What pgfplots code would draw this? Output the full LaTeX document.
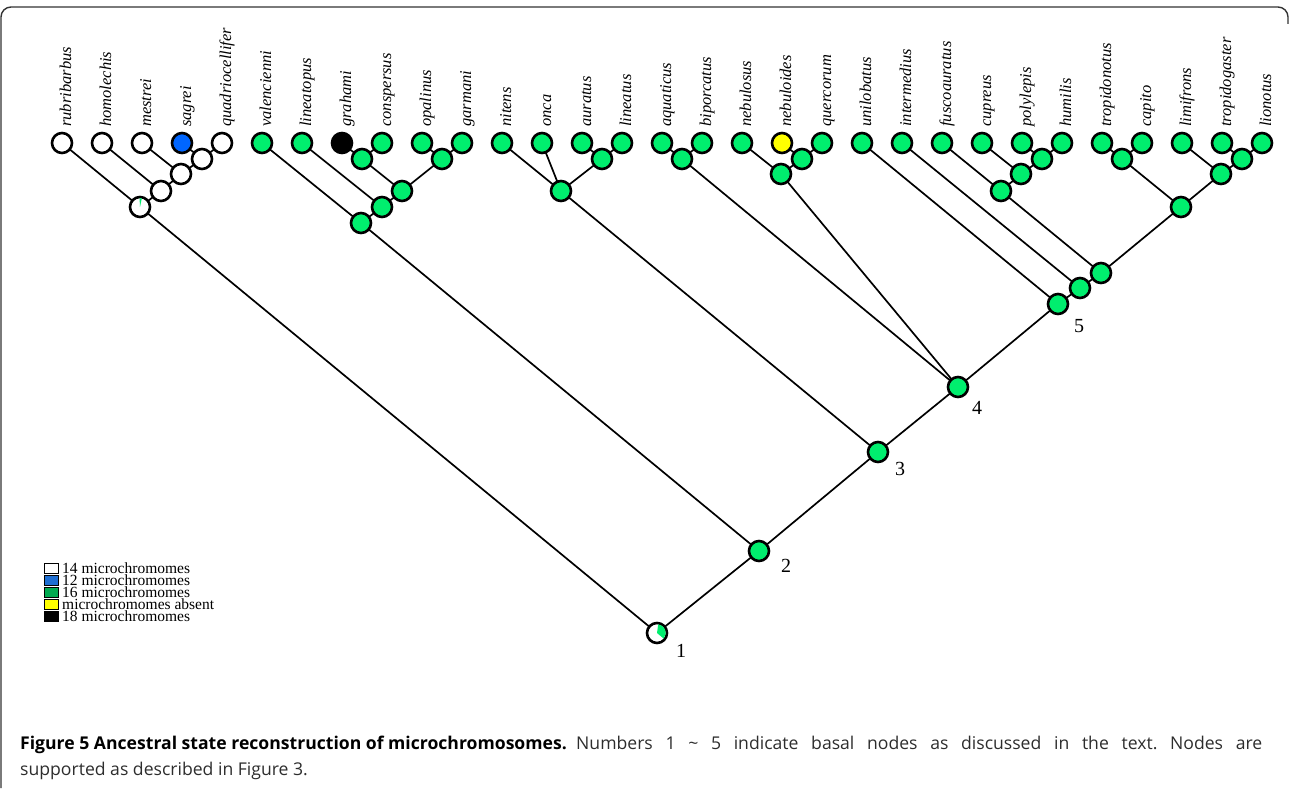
\documentclass[border=0pt]{standalone}
\usepackage{pgfplots}
\pgfplotsset{compat=1.18}
\usepackage{fontspec}
\setmainfont{Liberation Serif}
\newfontfamily\capfont{Open Sans}

\definecolor{nodegreen}{RGB}{0,238,110}
\definecolor{nodeblue}{RGB}{0,102,255}
\definecolor{nodeyellow}{RGB}{255,255,0}
\definecolor{leggreen}{RGB}{0,170,80}
\definecolor{legblue}{RGB}{30,110,210}
\definecolor{captext}{RGB}{45,45,45}

% green share of the root node and of the node below rubribarbus
\pgfdeclareplotmark{wedgeroot}{%
  \pgfpathmoveto{\pgfpointorigin}%
  \pgfpathlineto{\pgfpointpolar{82}{\pgfplotmarksize}}%
  \pgfpatharc{82}{-40}{\pgfplotmarksize}%
  \pgfpathclose
  \pgfusepathqfill}
\pgfdeclareplotmark{wedgesmall}{%
  \pgfpathmoveto{\pgfpointorigin}%
  \pgfpathlineto{\pgfpointpolar{93}{\pgfplotmarksize}}%
  \pgfpatharc{93}{78}{\pgfplotmarksize}%
  \pgfpathclose
  \pgfusepathqfill}

\tikzset{sp/.style={rotate=90, anchor=base west, inner sep=0pt,
    font=\fontsize{16.5}{18}\selectfont\itshape},
  nd/.style={only marks, mark=*, mark size=10pt,
    mark options={fill=#1, draw=black, line width=2.6pt}}}

\begin{document}
\frenchspacing
\begin{tikzpicture}
\begin{axis}[
    width=1290pt, height=788pt, scale only axis,
    xmin=0, xmax=1290, ymin=0, ymax=788,
    y dir=reverse,
    hide axis, clip=false,
    unbounded coords=jump,
]
\path (axis cs:0,0) rectangle (axis cs:1290,788);

% frame
\draw[line width=1.4pt, black!80, rounded corners=10pt]
  (axis cs:1,788) -- (axis cs:1,7) -- (axis cs:1288,7) -- (axis cs:1288,24);

% branches (child - parent - child), nan breaks the line
\addplot[black, line width=1.7pt, no markers] coordinates {
  (62,143) (140,207) (161,191) (nan,nan)
  (102,143) (161,191) (181,174) (nan,nan)
  (142,143) (181,174) (202,159) (nan,nan)
  (182,143) (202,159) (222,143) (nan,nan)
  (262,143) (361,223) (382,207) (nan,nan)
  (302,143) (382,207) (402,191) (nan,nan)
  (362,159) (402,191) (442,159) (nan,nan)
  (342,143) (362,159) (382,143) (nan,nan)
  (422,143) (442,159) (462,143) (nan,nan)
  (502,143) (561,191) (542,143) (nan,nan)
  (561,191) (602,159) (nan,nan)
  (582,143) (602,159) (622,143) (nan,nan)
  (662,143) (682,159) (702,143) (nan,nan)
  (742,143) (781,174) (802,159) (nan,nan)
  (782,143) (802,159) (822,143) (nan,nan)
  (1022,143) (1042,159) (1062,143) (nan,nan)
  (982,143) (1021,174) (1042,159) (nan,nan)
  (942,143) (1001,191) (1021,174) (nan,nan)
  (1102,143) (1122,159) (1142,143) (nan,nan)
  (1222,143) (1242,159) (1262,143) (nan,nan)
  (1182,143) (1221,174) (1242,159) (nan,nan)
  (1122,159) (1181,207) (1221,174) (nan,nan)
  (1001,191) (1101,273) (1181,207) (nan,nan)
  (902,143) (1080,288) (1101,273) (nan,nan)
  (862,143) (1058,304) (1080,288) (nan,nan)
  (682,159) (958,387) (781,174) (nan,nan)
  (958,387) (1058,304) (nan,nan)
  (561,191) (878,452) (958,387) (nan,nan)
  (361,223) (759,551) (878,452) (nan,nan)
  (140,207) (657,633) (759,551)
};

% nodes: 14 microchromomes
\addplot[nd=white] coordinates {
  (62,143) (102,143) (142,143) (222,143)
  (202,159) (181,174) (161,191) (140,207) (657,633)
};
% 12 microchromomes
\addplot[nd=nodeblue] coordinates {(182,143)};
% 18 microchromomes
\addplot[nd=black] coordinates {(342,143)};
% microchromomes absent
\addplot[nd=nodeyellow] coordinates {(782,143)};
% 16 microchromomes
\addplot[nd=nodegreen] coordinates {
  (262,143) (302,143) (382,143) (422,143) (462,143) (502,143) (542,143)
  (582,143) (622,143) (662,143) (702,143) (742,143) (822,143) (862,143)
  (902,143) (942,143) (982,143) (1022,143) (1062,143) (1102,143)
  (1142,143) (1182,143) (1222,143) (1262,143)
  (362,159) (442,159) (402,191) (382,207) (361,223)
  (602,159) (561,191) (682,159) (802,159) (781,174)
  (1042,159) (1021,174) (1001,191) (1122,159) (1242,159) (1221,174)
  (1181,207) (1101,273) (1080,288) (1058,304)
  (958,387) (878,452) (759,551)
};
% mixed nodes
\addplot[only marks, mark=wedgeroot, mark size=8.7pt,
  mark options={fill=nodegreen}] coordinates {(657,633)};
\addplot[only marks, mark=wedgesmall, mark size=8.7pt,
  mark options={fill=nodegreen}] coordinates {(140,207)};

% species names
\node[sp] at (axis cs:71,127) {rubribarbus};
\node[sp] at (axis cs:111,127) {homolechis};
\node[sp] at (axis cs:151,127) {mestrei};
\node[sp] at (axis cs:191,127) {sagrei};
\node[sp] at (axis cs:231,127) {quadriocellifer};
\node[sp] at (axis cs:271,127) {valencienni};
\node[sp] at (axis cs:311,127) {lineatopus};
\node[sp] at (axis cs:351,127) {grahami};
\node[sp] at (axis cs:391,127) {conspersus};
\node[sp] at (axis cs:431,127) {opalinus};
\node[sp] at (axis cs:471,127) {garmani};
\node[sp] at (axis cs:511,127) {nitens};
\node[sp] at (axis cs:551,127) {onca};
\node[sp] at (axis cs:591,127) {auratus};
\node[sp] at (axis cs:631,127) {lineatus};
\node[sp] at (axis cs:671,127) {aquaticus};
\node[sp] at (axis cs:711,127) {biporcatus};
\node[sp] at (axis cs:751,127) {nebulosus};
\node[sp] at (axis cs:791,127) {nebuloides};
\node[sp] at (axis cs:831,127) {quercorum};
\node[sp] at (axis cs:871,127) {unilobatus};
\node[sp] at (axis cs:911,127) {intermedius};
\node[sp] at (axis cs:951,127) {fuscoauratus};
\node[sp] at (axis cs:991,127) {cupreus};
\node[sp] at (axis cs:1031,127) {polylepis};
\node[sp] at (axis cs:1071,127) {humilis};
\node[sp] at (axis cs:1111,127) {tropidonotus};
\node[sp] at (axis cs:1151,127) {capito};
\node[sp] at (axis cs:1191,127) {limifrons};
\node[sp] at (axis cs:1231,127) {tropidogaster};
\node[sp] at (axis cs:1271,127) {lionotus};

% basal node numbers
\node[font=\fontsize{20}{22}\selectfont] at (axis cs:681,651) {1};
\node[font=\fontsize{20}{22}\selectfont] at (axis cs:786,566) {2};
\node[font=\fontsize{20}{22}\selectfont] at (axis cs:900,469) {3};
\node[font=\fontsize{20}{22}\selectfont] at (axis cs:977,408) {4};
\node[font=\fontsize{20}{22}\selectfont] at (axis cs:1079,326) {5};

% legend
\draw[line width=0.8pt, fill=white] (axis cs:44,563) rectangle (axis cs:58,573);
\draw[line width=0.8pt, fill=legblue] (axis cs:44,575) rectangle (axis cs:58,585);
\draw[line width=0.8pt, fill=leggreen] (axis cs:44,587) rectangle (axis cs:58,597);
\draw[line width=0.8pt, fill=nodeyellow] (axis cs:44,599) rectangle (axis cs:58,609);
\draw[line width=0.8pt, fill=black] (axis cs:44,611) rectangle (axis cs:58,621);
\begin{scope}[every node/.style={anchor=base west, inner sep=0pt,
    font=\fontsize{15.5}{15}\selectfont}]
\node at (axis cs:62,573) {14 microchromomes};
\node at (axis cs:62,585) {12 microchromomes};
\node at (axis cs:62,597) {16 microchromomes};
\node at (axis cs:62,609) {microchromomes absent};
\node at (axis cs:62,621) {18 microchromomes};
\end{scope}

% caption
\node[anchor=base west, inner sep=0pt,
  font=\capfont\bfseries\fontsize{17.6}{20}\selectfont] at (axis cs:20,749)
  {Figure 5 Ancestral state reconstruction of microchromosomes.};
\node[anchor=base west, inner sep=0pt, text=captext,
  font=\capfont\fontsize{17.6}{20}\selectfont] at (axis cs:576,749)
  {\makebox[686pt][s]{Numbers 1 \textasciitilde{} 5 indicate basal nodes as discussed in the text. Nodes are}};
\node[anchor=base west, inner sep=0pt, text=captext,
  font=\capfont\fontsize{17.6}{20}\selectfont] at (axis cs:20,775)
  {supported as described in Figure 3.};
\end{axis}
\end{tikzpicture}
\end{document}
